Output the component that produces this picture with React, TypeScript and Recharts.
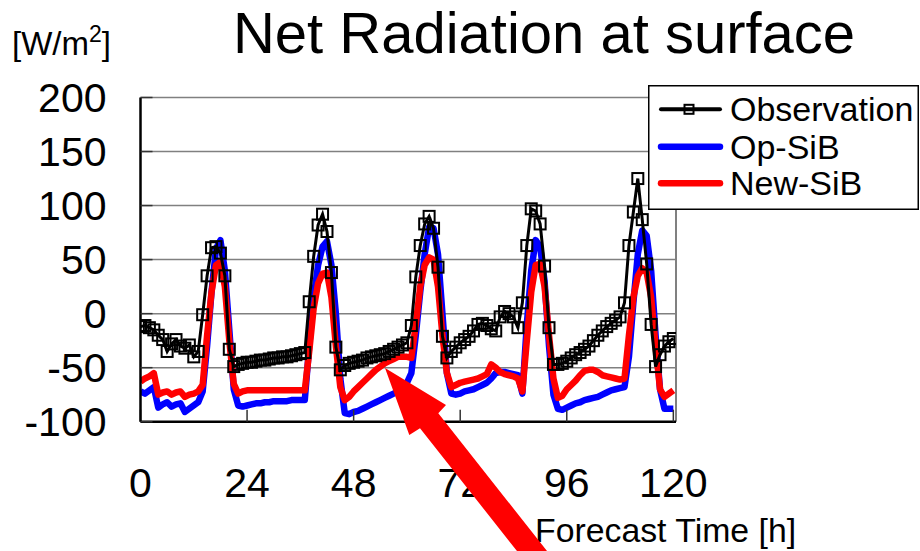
import React from "react";
import { LineChart, Line, XAxis, YAxis, CartesianGrid, Legend, ReferenceLine } from "recharts";

const FONT = "'Liberation Sans', Arial, Helvetica, sans-serif";

// hourly values, forecast hour 0..120 (W/m2)
const OBSERVATION = [
  -12, -11, -13, -15, -20, -24, -35, -28, -24, -30, -32, -29, -40, -35, -1, 35, 61, 62, 56, 35,
  -33, -49, -47, -46, -45, -45, -44, -43, -43, -42, -41, -41, -40, -40, -39, -38, -37, -36, 11, 53,
  82, 92, 76, 38, -31, -52, -48, -46, -45, -44, -43, -41, -40, -39, -38, -37, -35, -33, -31, -29,
  -27, -11, 34, 63, 83, 90, 79, 43, -21, -41, -35, -31, -27, -24, -21, -16, -10, -9, -11, -14,
  -16, -3, 2, 0, -3, -13, 10, 63, 97, 95, 83, 44, -13, -47, -47, -46, -44, -41, -38, -36,
  -33, -30, -25, -20, -16, -12, -9, -6, -3, 10, 63, 94, 125, 87, 46, -10, -49, -38, -30, -26,
  -23,
];

const OP_SIB = [
  -72, -74, -71, -68, -87, -84, -82, -86, -84, -83, -91, -88, -85, -82, -72, -30, 20, 60, 68, 40,
  -15, -70, -85, -86, -85, -84, -83, -83, -82, -82, -81, -81, -81, -81, -80, -80, -80, -80, -30, 15,
  45, 62, 67, 45, 0, -60, -92, -93, -91, -90, -88, -86, -84, -82, -80, -78, -76, -74, -72, -68,
  -64, -55, -20, 20, 55, 80, 79, 55, 0, -55, -74, -75, -74, -72, -71, -70, -68, -66, -64, -60,
  -55, -54, -54, -55, -56, -57, -74, -10, 40, 68, 62, 30, -30, -75, -88, -89, -87, -85, -83, -82,
  -80, -79, -78, -77, -75, -73, -71, -70, -69, -68, -40, 10, 55, 77, 72, 40, -20, -70, -88, -88,
  -88,
];

const NEW_SIB = [
  -63, -60, -58, -55, -75, -73, -72, -75, -73, -72, -77, -75, -74, -72, -66, -20, 20, 45, 48, 25,
  -25, -65, -74, -72, -71, -71, -71, -71, -71, -71, -71, -71, -71, -71, -71, -71, -71, -71, -35, 5,
  28, 37, 38, 15, -30, -68, -80, -77, -72, -68, -64, -60, -56, -52, -49, -46, -44, -42, -40, -40,
  -40, -41, -10, 25, 45, 52, 50, 25, -20, -55, -68, -66, -64, -63, -62, -61, -60, -58, -56, -47,
  -50, -54, -56, -57, -58, -60, -72, -25, 20, 45, 46, 25, -20, -60, -78, -76, -70, -66, -62, -57,
  -53, -52, -52, -54, -57, -58, -59, -60, -61, -60, -20, 15, 35, 42, 38, 15, -30, -70, -77, -74,
  -71,
];

const HOUR_TICKS = [0, 24, 48, 72, 96, 120];
const VALUE_TICKS = [-100, -50, 0, 50, 100, 150, 200];

const SERIES = [
  { key: "obs", name: "Observation", color: "#000000" },
  { key: "op", name: "Op-SiB", color: "#0000ff" },
  { key: "nw", name: "New-SiB", color: "#ff0000" },
];

const rows = OBSERVATION.map((v, i) => ({ hour: i, obs: v, op: OP_SIB[i], nw: NEW_SIB[i] }));

const SquareDot = (props: any) => {
  const { cx, cy, index } = props;
  if (cx == null || cy == null) return <g key={`e-${index}`} />;
  return (
    <rect key={`sq-${index}`} x={cx - 5.5} y={cy - 5.5} width={11} height={11} fill="none" stroke="#000" strokeWidth={2} />
  );
};

function LegendBox() {
  const rowY = [24.3, 61.7, 98.3];
  return (
    <svg width={271} height={125} style={{ display: "block" }}>
      <rect x={0.75} y={0.75} width={269.5} height={123.5} fill="#fff" stroke="#000" strokeWidth={1.5} />
      {SERIES.map((s, i) => (
        <g key={s.key}>
          <line
            x1={13}
            x2={72}
            y1={rowY[i]}
            y2={rowY[i]}
            stroke={s.color}
            strokeWidth={s.key === "obs" ? 4 : 6.5}
            strokeLinecap="round"
          />
          {s.key === "obs" && (
            <rect x={36.5} y={rowY[i] - 4.5} width={9} height={9} fill="none" stroke="#000" strokeWidth={2} />
          )}
          <text x={82} y={rowY[i] + 11.8} fontSize={34} fontFamily={FONT} fill="#000">
            {s.name}
          </text>
        </g>
      ))}
    </svg>
  );
}

export default function App() {
  return (
    <div style={{ position: "absolute", left: 0, top: 0, width: 920, height: 551, background: "#fff", overflow: "hidden" }}>
      <LineChart width={920} height={551} data={rows} margin={{ top: 97.5, right: 244, bottom: 99.3, left: 80.5 }}>
        <CartesianGrid horizontal vertical={false} stroke="#808080" strokeWidth={1.5} />
        <XAxis
          dataKey="hour"
          type="number"
          domain={[0, 120.6]}
          ticks={HOUR_TICKS}
          allowDataOverflow
          height={30}
          tickSize={-12}
          tickMargin={58.5}
          axisLine={{ stroke: "#000", strokeWidth: 2.5 }}
          tickLine={{ stroke: "#333", strokeWidth: 1.5 }}
          tick={{ fill: "#000", fontSize: 41, fontFamily: FONT }}
        />
        <YAxis
          type="number"
          domain={[-100, 200]}
          ticks={VALUE_TICKS}
          width={60}
          tickSize={-12}
          tickMargin={46}
          axisLine={{ stroke: "#000", strokeWidth: 2.5 }}
          tickLine={{ stroke: "#333", strokeWidth: 1.5 }}
          tick={{ fill: "#000", fontSize: 41, fontFamily: FONT }}
        />
        <ReferenceLine x={120.6} stroke="#808080" strokeWidth={2} />
        <Line dataKey="op" name="Op-SiB" stroke="#0000ff" strokeWidth={6.5} dot={false} isAnimationActive={false} strokeLinejoin="round" />
        <Line dataKey="nw" name="New-SiB" stroke="#ff0000" strokeWidth={6.5} dot={false} isAnimationActive={false} strokeLinejoin="round" />
        <Line dataKey="obs" name="Observation" stroke="#000000" strokeWidth={3} dot={SquareDot} isAnimationActive={false} />
        <Legend
          layout="vertical"
          align="center"
          verticalAlign="middle"
          content={() => <LegendBox />}
          wrapperStyle={{ left: 648, top: 85, width: 271, height: 125 }}
        />
      </LineChart>
      <svg width={920} height={551} style={{ position: "absolute", left: 0, top: 0, pointerEvents: "none" }}>
        <text x={544} y={53} textAnchor="middle" fontSize={58} fontFamily={FONT} fill="#000">
          Net Radiation at surface
        </text>
        <text x={12} y={55} fontSize={33} fontFamily={FONT} fill="#000">
          [W/m
          <tspan fontSize={23} dy={-13.3}>2</tspan>
          <tspan dy={13.3}>]</tspan>
        </text>
        <text x={535} y={541.7} fontSize={33.8} fontFamily={FONT} fill="#000">
          Forecast Time [h]
        </text>
        <polygon
          points="385,368 446,405 438.3,413.3 562,570 532,570 420,428.3 409.3,435"
          fill="#ff0000"
        />
      </svg>
    </div>
  );
}
